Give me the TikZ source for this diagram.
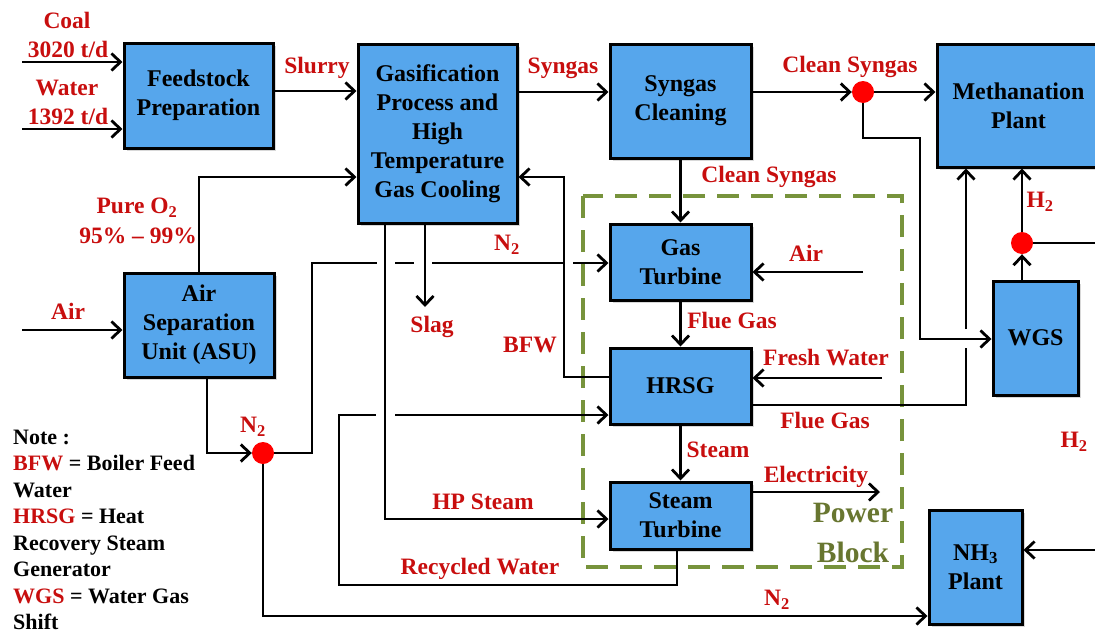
\documentclass[tikz,border=0pt]{standalone}
\usepackage{fontspec}
\setmainfont{Liberation Serif}
\usetikzlibrary{arrows.meta,shadows}
\definecolor{boxblue}{RGB}{86,166,236}
\definecolor{lblred}{RGB}{200,14,14}
\definecolor{pboxgreen}{RGB}{119,147,60}
\definecolor{pbtext}{RGB}{104,118,48}
\tikzset{
  box/.style={draw=black, line width=3pt, fill=boxblue, align=center, inner sep=0pt,
    font=\fontsize{24}{29}\selectfont\bfseries,
    drop shadow={shadow xshift=2.5pt, shadow yshift=-2.5pt, opacity=0.3}},
  lbl/.style={text=lblred, inner sep=0pt, font=\fontsize{23.5}{27}\selectfont\bfseries},
  pblbl/.style={text=pbtext, inner sep=0pt, font=\fontsize{29.5}{33}\selectfont\bfseries},
  notetxt/.style={anchor=base west, inner sep=0pt, font=\fontsize{22}{26}\selectfont\bfseries},
  ln/.style={line width=2.8pt},
  arr/.style={line width=2.8pt, -{Straight Barb[length=9pt,width=17pt]}},
  jdot/.style={circle, fill=red, minimum size=22pt, inner sep=0pt},
}
\begin{document}
\begin{tikzpicture}[x=1pt,y=-1pt]
\clip (0,0) rectangle (1095,635);
\fill[white] (0,0) rectangle (1095,635);

% power block frame
\draw[pboxgreen, line width=4pt, dash pattern=on 22pt off 12pt] (583,196) rectangle (902,567);

% boxes
\node[box, minimum width=149pt, minimum height=105pt] (feed) at (198.5,95.5) {Feedstock\\Preparation};
\node[box, minimum width=159pt, minimum height=179pt] (gas) at (437.5,133.5) {Gasification\\Process and\\High\\Temperature\\Gas Cooling};
\node[box, minimum width=141pt, minimum height=114pt] (clean) at (680.5,101) {Syngas\\Cleaning};
\node[box, minimum width=163pt, minimum height=123pt] (meth) at (1018.5,105.5) {Methanation\\Plant};
\node[box, minimum width=141pt, minimum height=76pt] (gt) at (680.5,262) {Gas\\Turbine};
\node[box, minimum width=141pt, minimum height=76pt] (hrsg) at (680.5,386) {HRSG};
\node[box, minimum width=141pt, minimum height=67pt] (st) at (680.5,515.5) {Steam\\Turbine};
\node[box, minimum width=85pt, minimum height=114pt] (wgs) at (1035.5,338) {WGS};
\node[box, minimum width=93pt, minimum height=114pt] (nh3) at (975.5,567) {NH\textsubscript{3}\\Plant};
\node[box, minimum width=150pt, minimum height=104pt] (asu) at (199,325) {Air\\Separation\\Unit (ASU)};

% junction dots
\node[jdot] (dot1) at (863,92) {};
\node[jdot] (dot2) at (1022,243) {};
\node[jdot] (dot3) at (263,453) {};

% free ends
\coordinate (coalin) at (22,62);
\coordinate (waterin) at (22,129);
\coordinate (airasu) at (22,330);
\coordinate (airgt) at (863,272);
\coordinate (fwin) at (882,378);
\coordinate (elec) at (880,492);
\coordinate (slagend) at (425,307);
\coordinate (h2out) at (1100,243);
\coordinate (nh3in) at (1100,550);

% connectors
\draw[arr] (coalin) -- (feed.west |- coalin);
\draw[arr] (waterin) -- (feed.west |- waterin);
\draw[arr] (feed.east |- 0,91) -- (gas.west |- 0,91);
\draw[arr] (gas.east |- 0,92) -- (clean.west |- 0,92);
\draw[arr] (clean.east |- dot1) -- (dot1);
\draw[arr] (dot1) -- (meth.west |- dot1);
\draw[arr] (dot1) |- (920,138) |- (wgs.west |- 0,339);
\draw[arr] (clean.south) -- (gt.north);
\draw[arr] (airgt) -- (gt.east |- airgt);
\draw[arr] (gt.south) -- (hrsg.north);
\draw[arr] (fwin) -- (hrsg.east |- fwin);
\draw[ln] (hrsg.east |- 0,405) -| (966,348);
\draw[arr] (966,329) -- (meth.south -| 966,0);
\draw[arr] (hrsg.south) -- (st.north);
\draw[arr] (st.east |- elec) -- (elec);
\draw[arr] (wgs.north -| dot2) -- (dot2);
\draw[arr] (dot2) -- (meth.south -| dot2);
\draw[ln] (dot2) -- (h2out);
\draw[arr] (nh3in) -- (nh3.east |- nh3in);
\draw[arr] (hrsg.west |- 0,377) -| (564,177) -- (gas.east |- 0,177);
\draw[arr] (asu.north) |- (gas.west |- 0,177);
\draw[arr] (airasu) -- (asu.west |- airasu);
\draw[arr] (asu.south -| 207,0) |- (dot3);
\draw[ln] (dot3) -| (312,263) -- (377,263);
\draw[ln] (395,263) -- (414,263);
\draw[ln] (432,263) -- (564,263);
\draw[arr] (573,263) -- (gt.west |- 0,263);
\draw[arr] (dot3) |- (nh3.west |- 0,616);
\draw[arr] (gas.south -| 385,0) |- (st.west |- 0,519);
\draw[arr] (gas.south -| 425,0) -- (slagend);
\draw[ln] (st.south -| 677,0) |- (339,585) -- (339,415) -- (376,415);
\draw[arr] (395,415) -- (hrsg.west |- 0,415);

% labels
\node[lbl] (tcoal) at (67,20) {Coal};
\node[lbl] (tcoalr) at (68,49) {3020 t/d};
\node[lbl] (twater) at (67,88) {Water};
\node[lbl] (twaterr) at (68,116) {1392 t/d};
\node[lbl] (tslurry) at (317,68) {Slurry};
\node[lbl] (to2) at (137,208) {Pure O\textsubscript{2}};
\node[lbl] (to2p) at (138,236) {95\% – 99\%};
\node[lbl] (tairasu) at (68,311) {Air};
\node[lbl] (tn2a) at (253,427) {N\textsubscript{2}};
\node[lbl] (tsyngas) at (563,68) {Syngas};
\node[lbl] (tn2b) at (507,245) {N\textsubscript{2}};
\node[lbl] (tslag) at (432,327) {Slag};
\node[lbl] (tbfw) at (530,345) {BFW};
\node[lbl] (thp) at (483,502) {HP Steam};
\node[lbl] (trec) at (480,569) {Recycled Water};
\node[lbl] (tcs1) at (850,67) {Clean Syngas};
\node[lbl] (tcs2) at (769,177) {Clean Syngas};
\node[lbl] (tairgt) at (806,253) {Air};
\node[lbl] (tflue1) at (732,320) {Flue Gas};
\node[lbl] (th2a) at (1040,202) {H\textsubscript{2}};
\node[lbl] (tfw) at (826,358) {Fresh Water};
\node[lbl] (tflue2) at (825,420) {Flue Gas};
\node[lbl] (tsteam) at (718,450) {Steam};
\node[lbl] (telec) at (816,477) {Electricity};
\node[lbl] (th2b) at (1074,442) {H\textsubscript{2}};
\node[lbl] (tn2c) at (777,600) {N\textsubscript{2}};
\node[pblbl] (tpower) at (853,513) {Power};
\node[pblbl] (tblock) at (853,552) {Block};

% note
\node[notetxt] (n1) at (13,444) {Note :};
\node[notetxt] (n2) at (13,470.5) {\textcolor{lblred}{BFW} = Boiler Feed};
\node[notetxt] (n3) at (13,497) {Water};
\node[notetxt] (n4) at (13,523.5) {\textcolor{lblred}{HRSG} = Heat};
\node[notetxt] (n5) at (13,550) {Recovery Steam};
\node[notetxt] (n6) at (13,576.5) {Generator};
\node[notetxt] (n7) at (13,603) {\textcolor{lblred}{WGS} = Water Gas};
\node[notetxt] (n8) at (13,629.5) {Shift};
\end{tikzpicture}
\end{document}
